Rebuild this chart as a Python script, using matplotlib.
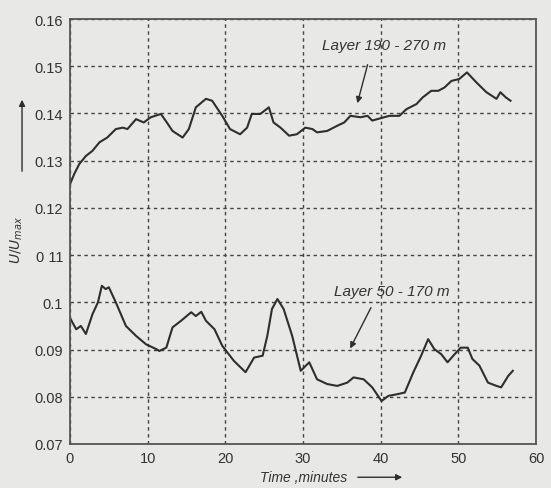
import numpy as np
import matplotlib.pyplot as plt

# Layer 190 - 270 m
t_upper = [0.0, 0.55, 1.2, 2.05, 2.9, 3.8, 4.8, 5.9, 6.8, 7.4, 8.5, 9.5, 10.4, 11.7,
           12.3, 13.2, 14.5, 15.3, 16.2, 17.5, 18.3, 19.6, 20.6, 21.9, 22.8, 23.4,
           24.5, 25.6, 26.2, 27.1, 28.2, 29.2, 30.3, 31.2, 31.8, 33.1, 34.4, 35.3,
           36.1, 37.4, 38.3, 38.9, 40.0, 41.1, 42.4, 43.3, 44.6, 45.4, 46.5, 47.4,
           48.2, 49.1, 50.1, 51.1, 52.3, 53.6, 54.9, 55.4, 56.1, 56.7]
u_upper = [0.1250, 0.1272, 0.1293, 0.1310, 0.1321, 0.1339, 0.1349, 0.1367, 0.1370,
           0.1367, 0.1388, 0.1381, 0.1392, 0.1399, 0.1385, 0.1363, 0.1349, 0.1367,
           0.1413, 0.1431, 0.1427, 0.1395, 0.1367, 0.1356, 0.1370, 0.1399, 0.1399,
           0.1413, 0.1381, 0.1370, 0.1353, 0.1356, 0.1370, 0.1367, 0.1360, 0.1363,
           0.1374, 0.1381, 0.1395, 0.1392, 0.1395, 0.1385, 0.1390, 0.1395, 0.1395,
           0.1409, 0.1420, 0.1434, 0.1448, 0.1448, 0.1455, 0.1469, 0.1473, 0.1487,
           0.1466, 0.1445, 0.1431, 0.1445, 0.1434, 0.1427]

# Layer 50 - 170 m
t_lower = [0.1, 0.8, 1.4, 2.05, 2.9, 3.6, 4.1, 4.6, 5.0, 5.9, 7.2, 8.5, 9.8, 11.1,
           11.5, 12.4, 13.2, 14.3, 15.6, 16.2, 16.9, 17.5, 18.6, 19.6, 21.1, 22.6,
           23.7, 24.8, 25.4, 26.0, 26.7, 27.5, 28.6, 29.7, 30.8, 31.8, 33.1, 34.4,
           35.7, 36.5, 37.8, 38.9, 40.1, 41.0, 42.0, 43.1, 44.2, 45.2, 46.1, 46.9,
           47.8, 48.6, 49.5, 50.3, 51.2, 51.8, 52.7, 53.8, 54.9, 55.5, 56.4, 57.0]
u_lower = [0.0964, 0.0943, 0.0950, 0.0933, 0.0975, 0.1000, 0.1035, 0.1028, 0.1032,
           0.1000, 0.0950, 0.0929, 0.0911, 0.0901, 0.0897, 0.0904, 0.0947, 0.0961,
           0.0979, 0.0971, 0.0980, 0.0961, 0.0943, 0.0908, 0.0876, 0.0852, 0.0883,
           0.0887, 0.0929, 0.0986, 0.1007, 0.0986, 0.0929, 0.0855, 0.0873, 0.0837,
           0.0827, 0.0823, 0.0830, 0.0841, 0.0837, 0.0820, 0.0791, 0.0802, 0.0805,
           0.0809, 0.0852, 0.0887, 0.0922, 0.0901, 0.0890, 0.0873, 0.0890, 0.0904,
           0.0904, 0.0880, 0.0866, 0.0830, 0.0823, 0.0820, 0.0844, 0.0855]

x_ticks = [0, 10, 20, 30, 40, 50, 60]
y_ticks = [0.07, 0.08, 0.09, 0.1, 0.11, 0.12, 0.13, 0.14, 0.15, 0.16]
y_labels = ['0.07', '0.08', '0.09', '0.1', '0 11', '0.12', '0.13', '0.14', '0.15', '0.16']

plt.rcParams['font.family'] = ['Liberation Sans', 'DejaVu Sans']
bg = '#e8e8e6'
ink = '#2e2e2e'

fig = plt.figure(figsize=(5.51, 4.89), dpi=100, facecolor=bg)
ax = fig.add_axes([0.127, 0.090, 0.846, 0.869], facecolor=bg)

ax.plot(t_upper, u_upper, color=ink, lw=1.5)
ax.plot(t_lower, u_lower, color=ink, lw=1.5)

ax.set_xlim(0, 60)
ax.set_ylim(0.07, 0.16)
ax.set_xticks(x_ticks)
ax.set_xticklabels([str(v) for v in x_ticks])
ax.set_yticks(y_ticks)
ax.set_yticklabels(y_labels)
ax.tick_params(length=0, labelsize=10.5, colors='#333333', pad=5)
ax.grid(True, color='#444444', ls=(0, (2.5, 2.5)), lw=1.0)
for s in ax.spines.values():
    s.set_color('#555555')
    s.set_linewidth(1.3)

# annotations
ax.annotate('', xy=(36.9, 0.1416), xytext=(38.4, 0.1509),
            arrowprops=dict(arrowstyle='-|>', color=ink, lw=1.0, mutation_scale=9))
ax.text(32.5, 0.1545, 'Layer 190 - 270 m', style='italic', fontsize=11,
        color='#333333', va='center')
ax.annotate('', xy=(35.9, 0.0897), xytext=(38.9, 0.0994),
            arrowprops=dict(arrowstyle='-|>', color=ink, lw=1.0, mutation_scale=9))
ax.text(34.0, 0.1023, 'Layer 50 - 170 m', style='italic', fontsize=11,
        color='#333333', va='center')

# axis labels
fig.text(0.030, 1 - 240 / 489, r'$U/U_{max}$', rotation=90, fontsize=10, color='#333333',
         ha='center', va='center')
fig.add_artist(plt.matplotlib.patches.FancyArrowPatch(
    (0.040, 1 - 175 / 489), (0.040, 1 - 98 / 489), transform=fig.transFigure,
    arrowstyle='-|>', mutation_scale=9, color=ink, lw=1.0))
fig.text(0.472, 0.022, 'Time ,minutes', style='italic', fontsize=10,
         color='#333333', ha='left', va='center')
fig.add_artist(plt.matplotlib.patches.FancyArrowPatch(
    (355 / 551, 0.022), (405 / 551, 0.022), transform=fig.transFigure,
    arrowstyle='-|>', mutation_scale=9, color=ink, lw=1.0))

fig.savefig('out.png', dpi=100, facecolor=bg)
